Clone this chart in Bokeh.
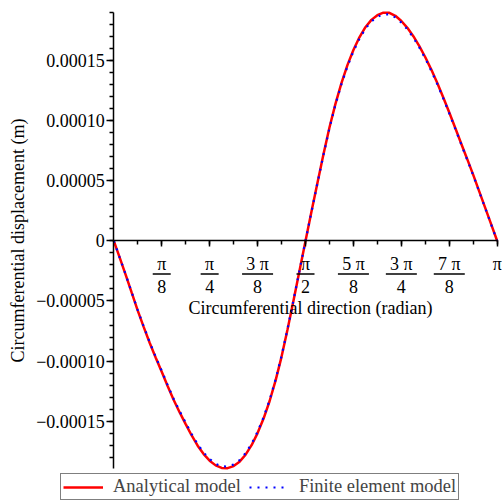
import numpy as np
from bokeh.plotting import figure
from bokeh.models import (Range1d, LinearAxis, FixedTicker, CustomJSTickFormatter,
                          Label, Legend, LegendItem)
from bokeh.embed import file_html
from bokeh.resources import INLINE

# ---- data ----
theta = [0.0, 0.0491, 0.0982, 0.1473, 0.1963, 0.2454, 0.2945, 0.3436, 0.3927,
         0.4418, 0.4909, 0.5400, 0.5890, 0.6381, 0.6872, 0.7363, 0.7854,
         0.8345, 0.8836, 0.9327, 0.9817, 1.0308, 1.0799, 1.1290, 1.1781,
         1.2272, 1.2763, 1.3254, 1.3744, 1.4235, 1.4726, 1.5217, 1.5708,
         1.6199, 1.6690, 1.7181, 1.7671, 1.8162, 1.8653, 1.9144, 1.9635,
         2.0126, 2.0617, 2.1108, 2.1598, 2.2089, 2.2580, 2.3071, 2.3562,
         2.4053, 2.4544, 2.5035, 2.5525, 2.6016, 2.6507, 2.6998, 2.7489,
         2.7980, 2.8471, 2.8962, 2.9452, 2.9943, 3.0434, 3.0925, 3.1416]

analytical = [0.0, -1.41e-5, -2.85e-5, -4.33e-5, -5.8e-5, -7.18e-5, -8.5e-5,
              -9.72e-5, -10.9e-5, -12.10e-5, -13.25e-5, -14.28e-5, -15.25e-5,
              -16.20e-5, -17.05e-5, -17.75e-5, -18.3e-5, -18.69e-5, -18.9e-5,
              -18.92e-5, -18.75e-5, -18.38e-5, -17.8e-5, -17.01e-5, -16.0e-5,
              -14.79e-5, -13.35e-5, -11.63e-5, -9.65e-5, -7.38e-5, -4.95e-5,
              -2.48e-5, 0.0,
              2.45e-5, 4.85e-5, 7.22e-5, 9.45e-5, 11.42e-5, 13.15e-5, 14.64e-5,
              15.9e-5, 16.96e-5, 17.8e-5, 18.41e-5, 18.8e-5, 19.01e-5, 19.0e-5,
              18.75e-5, 18.32e-5, 17.75e-5, 17.05e-5, 16.23e-5, 15.3e-5,
              14.27e-5, 13.15e-5, 11.95e-5, 10.7e-5, 9.41e-5, 8.1e-5, 6.81e-5,
              5.5e-5, 4.13e-5, 2.75e-5, 1.38e-5, 0.0]

fem = [0.0, -1.40e-5, -2.83e-5, -4.30e-5, -5.76e-5, -7.13e-5, -8.44e-5,
       -9.65e-5, -10.82e-5, -12.02e-5, -13.16e-5, -14.18e-5, -15.14e-5,
       -16.09e-5, -16.93e-5, -17.63e-5, -18.17e-5, -18.56e-5, -18.77e-5,
       -18.79e-5, -18.62e-5, -18.25e-5, -17.68e-5, -16.89e-5, -15.89e-5,
       -14.69e-5, -13.26e-5, -11.55e-5, -9.58e-5, -7.33e-5, -4.92e-5,
       -2.46e-5, 0.0,
       2.43e-5, 4.82e-5, 7.17e-5, 9.38e-5, 11.34e-5, 13.06e-5, 14.54e-5,
       15.79e-5, 16.84e-5, 17.68e-5, 18.28e-5, 18.67e-5, 18.88e-5, 18.87e-5,
       18.62e-5, 18.19e-5, 17.63e-5, 16.93e-5, 16.12e-5, 15.19e-5,
       14.17e-5, 13.06e-5, 11.87e-5, 10.62e-5, 9.34e-5, 8.04e-5, 6.76e-5,
       5.46e-5, 4.10e-5, 2.73e-5, 1.37e-5, 0.0]

x_tick_fracs = [1/8, 2/8, 3/8, 4/8, 5/8, 6/8, 7/8, 1.0]
x_tick_num = ["π", "π", "3 π", "π", "5 π", "3 π", "7 π", "π"]
x_tick_den = ["8", "4", "8", "2", "8", "4", "8", ""]
x_minor_fracs = [k / 16 for k in range(1, 17)]

y_ticks = [-0.00015, -0.0001, -0.00005, 0.0, 0.00005, 0.0001, 0.00015]
y_tick_labels = ["\u22120.00015", "\u22120.00010", "\u22120.00005", "0",
                 "0.00005", "0.00010", "0.00015"]
y_minor = [k * 1e-5 for k in range(-18, 20)]

legend_labels = ["Analytical model", "Finite element model"]
x_title = "Circumferential direction (radian)"
y_title = "Circumferential displacement (m)"

# ---- layout (pixels) ----
FONT = "Liberation Serif"
W, H = 502, 500
AX_LEFT, AX_RIGHT, AX_TOP, AX_BOTTOM = 113.3, 496.7, 11.7, 468.0
X_MIN, X_MAX = 0.0, np.pi
Y_MIN, Y_MAX = -0.0001895, 0.0001905
XPP = (X_MAX - X_MIN) / (AX_RIGHT - AX_LEFT)
YPP = (Y_MAX - Y_MIN) / (AX_BOTTOM - AX_TOP)

p = figure(width=W, height=H, output_backend="svg", toolbar_location=None,
           x_range=Range1d(X_MIN - AX_LEFT * XPP, X_MAX + (W - AX_RIGHT) * XPP),
           y_range=Range1d(Y_MIN - (H - AX_BOTTOM) * YPP, Y_MAX + AX_TOP * YPP),
           x_axis_location=None, y_axis_location=None,
           min_border_left=0, min_border_right=0,
           min_border_top=0, min_border_bottom=0)
p.outline_line_color = None
p.xgrid.visible = False
p.ygrid.visible = False
p.background_fill_color = "white"
p.border_fill_color = "white"

# y axis along x = 0
ya = LinearAxis(fixed_location=0, bounds=(Y_MIN, Y_MAX),
                ticker=FixedTicker(ticks=y_ticks, minor_ticks=y_minor))
ya.formatter = CustomJSTickFormatter(
    args=dict(tvals=y_ticks, tlabels=y_tick_labels),
    code="""
    let best = 0;
    for (let i = 0; i < tvals.length; i++) {
      if (Math.abs(tvals[i] - tick) < Math.abs(tvals[best] - tick)) best = i;
    }
    return tlabels[best];
    """)
ya.major_label_text_font = FONT
ya.major_label_text_font_size = "18px"
ya.major_label_text_color = "black"
ya.major_label_standoff = 2
ya.axis_label = y_title
ya.axis_label_text_font = FONT
ya.axis_label_text_font_style = "normal"
ya.axis_label_text_font_size = "18px"
ya.axis_label_text_color = "black"
ya.axis_label_standoff = 5
ya.major_tick_out = 7
ya.major_tick_in = 0
ya.minor_tick_out = 4
ya.minor_tick_in = 0
ya.axis_line_width = 1.5
ya.major_tick_line_width = 1.5
ya.minor_tick_line_width = 1.5
ya.axis_line_color = "black"
p.add_layout(ya, "left")

# x axis along y = 0 (its labels are drawn as fractions below)
x_ticks = [np.pi * f for f in x_tick_fracs]
x_minor = [np.pi * f for f in x_minor_fracs]
xa = LinearAxis(fixed_location=0, bounds=(X_MIN, X_MAX),
                ticker=FixedTicker(ticks=x_ticks, minor_ticks=x_minor),
                formatter=CustomJSTickFormatter(code="return '';"),
                major_tick_out=6, major_tick_in=0,
                minor_tick_out=4, minor_tick_in=0,
                axis_line_width=1.5, major_tick_line_width=1.5,
                minor_tick_line_width=1.5, axis_line_color="black")
p.add_layout(xa, "below")

# curves
r1 = p.line(theta, analytical, line_color="#ff0000", line_width=2.5)
r2 = p.line(theta, fem, line_color="#0000ff", line_width=2.2, line_dash="2 6")

# fraction tick labels
for xv, num, den in zip(x_ticks, x_tick_num, x_tick_den):
    p.add_layout(Label(x=xv, y=0, text=num, y_offset=-23,
                       text_align="center", text_baseline="middle",
                       text_font=FONT, text_font_size="18px", text_color="black"))
    if den:
        p.add_layout(Label(x=xv, y=0, text=den, y_offset=-46,
                           text_align="center", text_baseline="middle",
                           text_font=FONT, text_font_size="18px", text_color="black"))

bar_x = [xv for xv, den in zip(x_ticks, x_tick_den) if den]
bar_w = [18 if len(num) == 1 else 31 for num, den in zip(x_tick_num, x_tick_den) if den]
bar_y = -33 * YPP
p.scatter(x=bar_x, y=[bar_y] * len(bar_x), marker="dash", size=bar_w,
          line_color="black", line_width=1.6)

# x axis title
p.add_layout(Label(x=np.pi / 2, y=0, x_offset=5, y_offset=-67, text=x_title,
                   text_align="center", text_baseline="middle",
                   text_font=FONT, text_font_size="18px", text_color="black"))

# legend below the axes
legend = Legend(items=[LegendItem(label=legend_labels[0], renderers=[r1]),
                       LegendItem(label=legend_labels[1], renderers=[r2])],
                orientation="horizontal", location=(60, 0),
                label_text_font=FONT, label_text_font_size="18.5px",
                glyph_width=40, glyph_height=20, label_height=20,
                label_standoff=10, spacing=8, padding=2, margin=0,
                border_line_color="black", border_line_width=1.4,
                background_fill_color="white", background_fill_alpha=1)
p.add_layout(legend, "center")

open("out.html", "w").write(file_html(p, INLINE))
